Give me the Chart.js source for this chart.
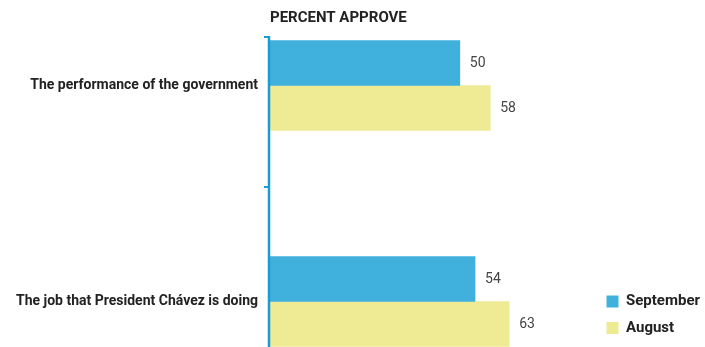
<!DOCTYPE html>
<html>
<head>
<meta charset="utf-8">
<script src="https://cdn.jsdelivr.net/npm/chart.js@4"></script>
<style>
  html, body { margin: 0; padding: 0; background: #fff; }
  #wrap { width: 705px; height: 347px; }
</style>
</head>
<body>
<div id="wrap"><canvas id="c"></canvas></div>
<script>
// Survey items and approval shares (percent)
const categories = ['The performance of the government', 'The job that President Chávez is doing'];
const septemberValues = [50, 54];
const augustValues = [58, 63];
const seriesNames = ['September', 'August'];
const chartTitle = 'PERCENT APPROVE';

const BLUE = '#40b1dd';
const YELLOW = '#efeb94';
const AXIS_BLUE = '#1a9bd7';
const FONT = 'Roboto, "DejaVu Sans", sans-serif';

// Writes each bar's value just past its end
const valueLabels = {
  id: 'valueLabels',
  afterDatasetsDraw(chart) {
    const ctx = chart.ctx;
    ctx.save();
    ctx.font = '14px ' + FONT;
    ctx.fillStyle = '#444';
    ctx.textAlign = 'left';
    ctx.textBaseline = 'middle';
    chart.data.datasets.forEach((ds, i) => {
      chart.getDatasetMeta(i).data.forEach((bar, j) => {
        ctx.fillText(String(ds.data[j]), bar.x + 10, bar.y);
      });
    });
    ctx.restore();
  }
};

// Vertical category axis rule with its tick marks
const axisRule = {
  id: 'axisRule',
  afterDatasetsDraw(chart) {
    const ctx = chart.ctx;
    const x = chart.scales.x.getPixelForValue(0) - 1;
    const y = chart.scales.y;
    const top = y.getPixelForValue(0) - 48.5;
    const mid = top + 150;
    ctx.save();
    ctx.strokeStyle = AXIS_BLUE;
    ctx.lineWidth = 2.5;
    ctx.beginPath();
    ctx.moveTo(x, top - 1);
    ctx.lineTo(x, chart.height);
    ctx.stroke();
    ctx.lineWidth = 2;
    ctx.beginPath();
    ctx.moveTo(x - 5, top);
    ctx.lineTo(x, top);
    ctx.moveTo(x - 5, mid);
    ctx.lineTo(x, mid);
    ctx.stroke();
    ctx.restore();
  }
};

new Chart(document.getElementById('c'), {
  type: 'bar',
  data: {
    labels: categories,
    datasets: [
      { label: seriesNames[0], data: septemberValues, backgroundColor: BLUE, barThickness: 45, clip: false },
      { label: seriesNames[1], data: augustValues, backgroundColor: YELLOW, barThickness: 45, clip: false }
    ]
  },
  options: {
    indexAxis: 'y',
    responsive: true,
    maintainAspectRatio: false,
    animation: false,
    layout: { padding: 0 },
    scales: {
      x: {
        display: true,
        min: 0,
        max: 85.6,
        grid: { display: false },
        border: { display: false },
        ticks: { display: false },
        afterFit(scale) { scale.height = 45.5; }
      },
      y: {
        offset: false,
        grid: { display: false },
        border: { display: false },
        ticks: {
          padding: 4,
          color: '#222',
          font: { family: FONT, size: 14, weight: 'bold' }
        },
        afterFit(scale) { scale.width = 270; }
      }
    },
    plugins: {
      title: {
        display: true,
        text: chartTitle,
        align: 'start',
        fullSize: false,
        color: '#222',
        font: { family: FONT, size: 15, weight: 'bold' },
        padding: { top: 9, bottom: 58.5 }
      },
      legend: {
        position: 'right',
        align: 'end',
        maxWidth: 110,
        labels: {
          boxWidth: 12,
          boxHeight: 12,
          padding: 11.5,
          color: '#222',
          font: { family: FONT, size: 15, weight: 'bold' }
        }
      },
      tooltip: { enabled: false }
    }
  },
  plugins: [valueLabels, axisRule]
});
</script>
</body>
</html>
